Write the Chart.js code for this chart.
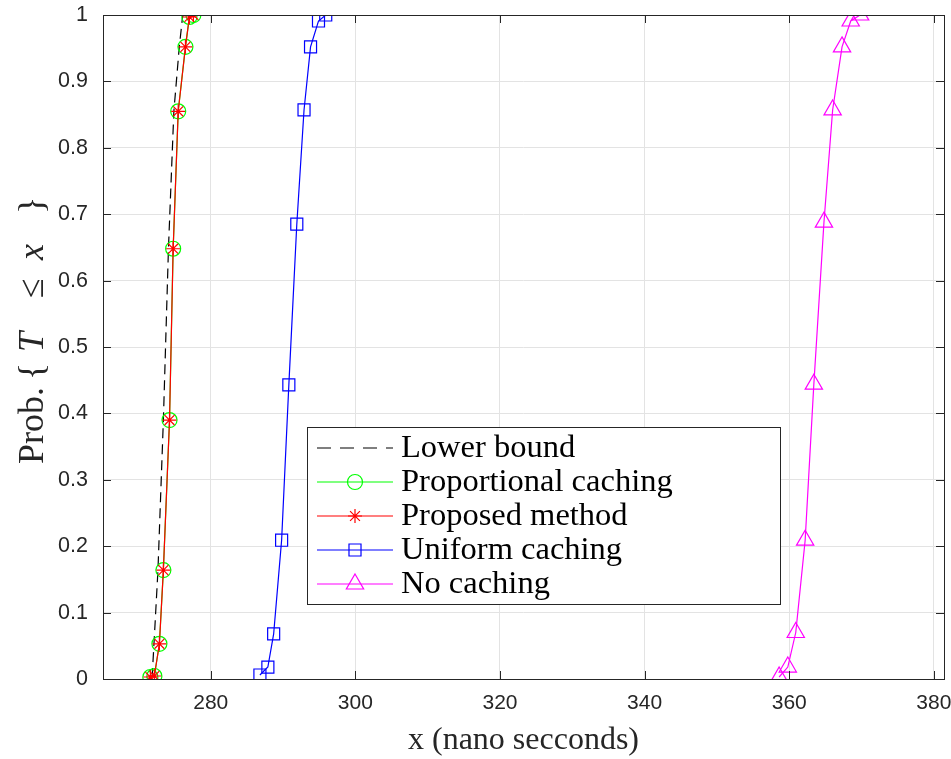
<!DOCTYPE html>
<html>
<head>
<meta charset="utf-8">
<script src="https://cdn.jsdelivr.net/npm/chart.js@4.4.0/dist/chart.umd.min.js"></script>
<style>
  html, body { margin: 0; padding: 0; background: #fff; }
  canvas { display: block; }
</style>
</head>
<body>
<canvas id="myChart" width="951" height="759"></canvas>
<script>
// values (x in ns, y = CDF)
const lowerX    = [271.65, 271.9, 272.15, 272.7, 273.45, 274.15, 274.9, 275.65, 276.1, 276.2];
const lowerY    = [0.003, 0.0045, 0.053, 0.164, 0.390, 0.648, 0.855, 0.952, 0.997, 1.0];
const propX     = [271.65, 272.2, 272.9, 273.45, 274.3, 274.8, 275.5, 276.5, 277.05, 277.6];
const propY     = [0.003, 0.0045, 0.053, 0.164, 0.390, 0.648, 0.855, 0.952, 0.997, 1.0];
const proposedX = [271.65, 272.2, 272.9, 273.45, 274.3, 274.8, 275.5, 276.5, 277.05, 277.6];
const proposedY = [0.003, 0.0045, 0.053, 0.164, 0.390, 0.648, 0.855, 0.952, 0.997, 1.0];
const uniformX  = [286.8, 287.9, 288.7, 289.8, 290.8, 291.9, 292.9, 293.8, 294.9, 295.9];
const uniformY  = [0.006, 0.018, 0.068, 0.209, 0.443, 0.685, 0.857, 0.952, 0.991, 1.0];
const noCacheX  = [358.6, 359.8, 360.9, 362.2, 363.4, 364.8, 366.0, 367.3, 368.5, 369.8];
const noCacheY  = [0.003, 0.018, 0.070, 0.209, 0.444, 0.688, 0.857, 0.952, 0.991, 1.0];

const xTicks = [280, 300, 320, 340, 360, 380];
const yTicks = [0, 0.1, 0.2, 0.3, 0.4, 0.5, 0.6, 0.7, 0.8, 0.9, 1];

const axisColor = '#262626';
const serif = '"Liberation Serif"';
const toPoints = (xs, ys) => xs.map((x, i) => ({ x: x, y: ys[i] }));

const legendItems = [
  { label: 'Lower bound', color: '#000000', dash: [14, 9], style: null, radius: 0 },
  { label: 'Proportional caching', color: '#00ff00', style: 'circle', radius: 7.5 },
  { label: 'Proposed method', color: '#ff0000', style: 'star', radius: 7 },
  { label: 'Uniform caching', color: '#0000ff', style: 'rect', radius: 8.5 },
  { label: 'No caching', color: '#ff00ff', style: 'triangle', radius: 10 }
];

function marker(ctx, style, r, x, y) {
  if (Chart.helpers && Chart.helpers.drawPoint) {
    Chart.helpers.drawPoint(ctx, { pointStyle: style, radius: r, borderWidth: 1.2, rotation: 0 }, x, y);
    return;
  }
  ctx.beginPath();
  ctx.arc(x, y, r, 0, Math.PI * 2);
  ctx.stroke();
}

// frame, inward ticks, axis titles, legend box
const decor = {
  id: 'decor',
  afterDraw(chart) {
    const ctx = chart.ctx;
    const a = chart.chartArea;
    const xs = chart.scales.x, ys = chart.scales.y;
    ctx.save();
    ctx.strokeStyle = axisColor;
    ctx.lineWidth = 1;
    ctx.strokeRect(a.left + 0.5, a.top + 0.5, a.right - a.left, a.bottom - a.top);
    ctx.beginPath();
    xTicks.forEach(v => {
      const px = Math.round(xs.getPixelForValue(v)) + 0.5;
      ctx.moveTo(px, a.bottom); ctx.lineTo(px, a.bottom - 8);
      ctx.moveTo(px, a.top); ctx.lineTo(px, a.top + 8);
    });
    yTicks.forEach(v => {
      const py = Math.round(ys.getPixelForValue(v)) + 0.5;
      ctx.moveTo(a.left, py); ctx.lineTo(a.left + 8, py);
      ctx.moveTo(a.right, py); ctx.lineTo(a.right - 8, py);
    });
    ctx.stroke();

    // x title
    ctx.fillStyle = axisColor;
    ctx.font = '32px ' + serif;
    ctx.textAlign = 'center';
    ctx.textBaseline = 'middle';
    ctx.fillText('x (nano secconds)', (a.left + a.right) / 2, 741);

    // y title, pieces placed along the rotated baseline
    const parts = [
      ['Prob.', '', 0], ['{', '', 84], ['T', 'italic ', 112], ['\u2264', '', 166], ['x', 'italic ', 204], ['}', '', 250]
    ];
    ctx.translate(43, 464);
    ctx.rotate(-Math.PI / 2);
    ctx.textAlign = 'left';
    ctx.textBaseline = 'alphabetic';
    parts.forEach(p => {
      ctx.font = p[1] + '36px ' + serif;
      ctx.fillText(p[0], p[2], 0);
    });
    ctx.setTransform(1, 0, 0, 1, 0, 0);

    // legend
    const bx = 307, by = 427, bw = 473, bh = 177;
    ctx.fillStyle = '#ffffff';
    ctx.fillRect(bx, by, bw, bh);
    ctx.strokeStyle = axisColor;
    ctx.lineWidth = 1;
    ctx.strokeRect(bx + 0.5, by + 0.5, bw, bh);
    const rows = [448, 482, 516, 550, 584];
    legendItems.forEach((it, i) => {
      const y = rows[i];
      ctx.strokeStyle = it.color;
      ctx.fillStyle = 'rgba(0,0,0,0)';
      ctx.lineWidth = 1.2;
      ctx.setLineDash(it.dash || []);
      ctx.beginPath();
      ctx.moveTo(317, y); ctx.lineTo(393, y);
      ctx.stroke();
      ctx.setLineDash([]);
      if (it.style) marker(ctx, it.style, it.radius, 355, y);
      ctx.fillStyle = '#000000';
      ctx.font = '32.5px ' + serif;
      ctx.textAlign = 'left';
      ctx.textBaseline = 'middle';
      ctx.fillText(it.label, 401, y);
    });
    ctx.restore();
  }
};

const ctx = document.getElementById('myChart').getContext('2d');
new Chart(ctx, {
  type: 'line',
  data: {
    datasets: [
      { label: 'Lower bound', data: toPoints(lowerX, lowerY), borderColor: '#000000', borderDash: [10, 6],
        borderWidth: 1.2, pointRadius: 0, order: 3 },
      { label: 'Proportional caching', data: toPoints(propX, propY), borderColor: '#00ff00', borderWidth: 1.2,
        pointStyle: 'circle', pointRadius: 7.5, pointBorderWidth: 1.2, pointBorderColor: '#00ff00',
        pointBackgroundColor: 'rgba(0,0,0,0)', order: 2 },
      { label: 'Proposed method', data: toPoints(proposedX, proposedY), borderColor: '#ff0000', borderWidth: 1.2,
        pointStyle: 'star', pointRadius: 7, pointBorderWidth: 1.2, pointBorderColor: '#ff0000',
        pointBackgroundColor: 'rgba(0,0,0,0)', order: 1 },
      { label: 'Uniform caching', data: toPoints(uniformX, uniformY), borderColor: '#0000ff', borderWidth: 1.2,
        pointStyle: 'rect', pointRadius: 8.5, pointBorderWidth: 1.2, pointBorderColor: '#0000ff',
        pointBackgroundColor: 'rgba(0,0,0,0)', order: 4 },
      { label: 'No caching', data: toPoints(noCacheX, noCacheY), borderColor: '#ff00ff', borderWidth: 1.2,
        pointStyle: 'triangle', pointRadius: 10, pointBorderWidth: 1.2, pointBorderColor: '#ff00ff',
        pointBackgroundColor: 'rgba(0,0,0,0)', order: 5 }
    ]
  },
  options: {
    responsive: false,
    animation: false,
    devicePixelRatio: 1,
    layout: { autoPadding: false, padding: { top: 15, right: 7, bottom: 0, left: 0 } },
    elements: { line: { tension: 0, fill: false } },
    plugins: { legend: { display: false }, tooltip: { enabled: false } },
    scales: {
      x: {
        type: 'linear', min: 265.1, max: 381.4,
        afterBuildTicks: s => { s.ticks = xTicks.map(v => ({ value: v })); },
        afterFit: s => { s.height = 80; s.paddingLeft = 0; s.paddingRight = 0; },
        ticks: { color: axisColor, font: { family: '"Liberation Sans"', size: 21 }, padding: 12 },
        grid: { color: '#e3e3e3', drawTicks: false },
        border: { display: false }
      },
      y: {
        type: 'linear', min: 0, max: 1,
        afterBuildTicks: s => { s.ticks = yTicks.map(v => ({ value: v })); },
        afterFit: s => { s.width = 103; s.paddingTop = 0; s.paddingBottom = 0; },
        ticks: { color: axisColor, font: { family: '"Liberation Sans"', size: 21.5 }, padding: 15,
                 callback: v => String(Math.round(v * 10) / 10) },
        grid: { color: '#e3e3e3', drawTicks: false },
        border: { display: false }
      }
    }
  },
  plugins: [decor]
});
</script>
</body>
</html>
